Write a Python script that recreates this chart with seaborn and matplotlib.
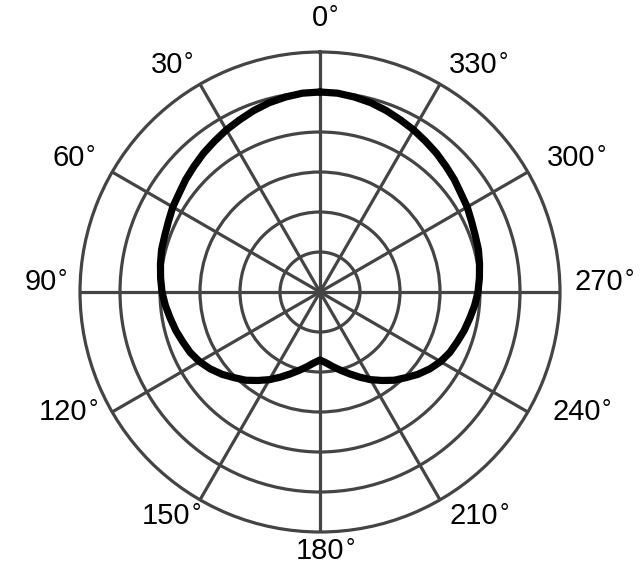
import numpy as np
import pandas as pd
import matplotlib
matplotlib.use("Agg")
import matplotlib.pyplot as plt
import seaborn as sns

sns.set_style("white")
plt.rcParams['font.family'] = ['Liberation Sans', 'DejaVu Sans']

# polar pattern, read every 5 degrees (rings are 1..6)
angle_deg = [0, 5, 10, 15, 20, 25, 30, 35, 40, 45, 50, 55, 60, 65, 70, 75, 80, 85,
             90, 95, 100, 105, 110, 115, 120, 125, 130, 135, 140, 145, 150, 155, 160, 165, 170, 175,
             180, 185, 190, 195, 200, 205, 210, 215, 220, 225, 230, 235, 240, 245, 250, 255, 260, 265,
             270, 275, 280, 285, 290, 295, 300, 305, 310, 315, 320, 325, 330, 335, 340, 345, 350, 355, 360]
level = [5.0, 4.99, 4.95, 4.9, 4.83, 4.75, 4.68, 4.6, 4.53, 4.45, 4.38, 4.3, 4.25, 4.18, 4.13, 4.1, 4.05, 4.0,
         3.95, 3.88, 3.8, 3.73, 3.65, 3.58, 3.48, 3.35, 3.2, 3.03, 2.88, 2.7, 2.53, 2.35, 2.18, 2.03, 1.9, 1.78,
         1.7, 1.78, 1.9, 2.03, 2.18, 2.35, 2.53, 2.7, 2.88, 3.03, 3.2, 3.35, 3.48, 3.58, 3.65, 3.73, 3.8, 3.88,
         3.95, 4.0, 4.05, 4.1, 4.13, 4.18, 4.25, 4.3, 4.38, 4.45, 4.53, 4.6, 4.68, 4.75, 4.83, 4.9, 4.95, 4.99, 5.0]

ring_levels = [1, 2, 3, 4, 5]
tick_deg = [0, 30, 60, 90, 120, 150, 180, 210, 240, 270, 300, 330]
tick_text = ["0", "30", "60", "90", "120", "150", "180", "210", "240", "270", "300", "330"]

# where the labels sit (hand placed in the original)
label_ang = [0, 34, 62, 88, 115, 145.5, 180, 214.5, 245, 272, 298, 326]
label_rad = [6.85, 6.85, 7.12, 6.98, 7.08, 6.8, 6.48, 6.8, 7.08, 6.98, 7.12, 6.85]

df = pd.DataFrame({"theta": np.deg2rad(angle_deg), "r": level})

grid_col = "#444444"

fig = plt.figure(figsize=(6.4, 5.85), dpi=100)
ax = fig.add_axes([0.125, 0.0906, 0.75, 0.8205], projection="polar")
ax.set_theta_zero_location("N")
ax.set_theta_direction(1)
ax.set_ylim(0, 6)

ax.set_rgrids(ring_levels, labels=[""] * len(ring_levels))
ax.set_thetagrids(tick_deg, labels=[""] * len(tick_deg))
ax.grid(True, color=grid_col, linewidth=2.3)
ax.spines["polar"].set_color(grid_col)
ax.spines["polar"].set_linewidth(2.3)
ax.set_axisbelow(True)

sns.lineplot(data=df, x="theta", y="r", sort=False, estimator=None, ax=ax,
             color="black", linewidth=5.2, zorder=5)
for ln in ax.lines:
    ln.set_solid_joinstyle("round")
ax.set_xlabel("")
ax.set_ylabel("")

# number centred on its spot, small degree sign hung on its upper right
for a, rr, lab in zip(label_ang, label_rad, tick_text):
    t = ax.text(np.deg2rad(a), rr, lab, ha="center", va="center",
                fontsize=21, color="black", clip_on=False)
    ax.annotate("°", xy=(1.02, 0.97), xycoords=t, ha="left", va="top",
                fontsize=17, color="black", annotation_clip=False)

fig.savefig("out.png", dpi=100)
